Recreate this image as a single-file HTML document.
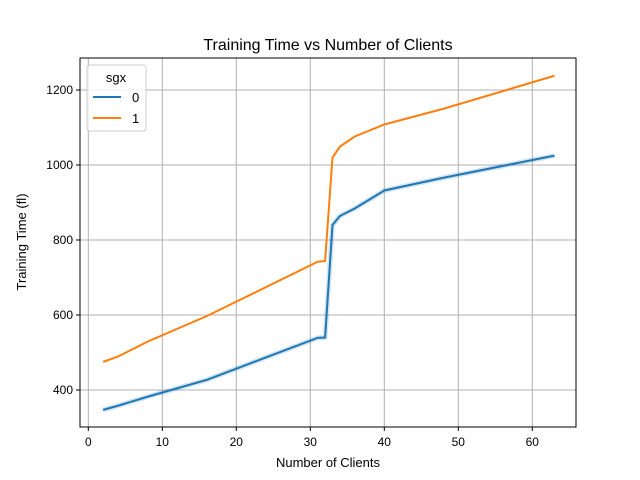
<!DOCTYPE html>
<html><head><meta charset="utf-8"><style>
body{margin:0;background:#fff;}
svg{display:block;font-family:"Liberation Sans","DejaVu Sans",sans-serif;}
</style></head><body>
<svg id="chart" width="640" height="480">
<rect width="640" height="480" fill="#fff"/>
<text x="328" y="50" text-anchor="middle" font-size="16">Training Time vs Number of Clients</text>
<text x="328" y="467" text-anchor="middle" font-size="13">Number of Clients</text>
<text transform="translate(26,242) rotate(-90)" text-anchor="middle" font-size="13">Training Time (fl)</text>
<g id="grid"></g><g id="series"></g><g id="ticks"></g>
<rect x="80" y="58" width="496" height="369" fill="none" stroke="#000" stroke-width="1"/>
<g>
<rect x="87" y="65" width="59" height="66" rx="3" fill="#fff" fill-opacity="0.8" stroke="#ccc"/>
<text x="116" y="82" text-anchor="middle" font-size="13">sgx</text>
<line x1="93" y1="97" x2="121" y2="97" stroke="#1f77b4" stroke-width="2"/>
<text x="132" y="102" font-size="13">0</text>
<line x1="93" y1="118" x2="121" y2="118" stroke="#ff7f0e" stroke-width="2"/>
<text x="132" y="123" font-size="13">1</text>
</g>
</svg>
<script>
const clients = [2,4,8,16,31,32,33,34,36,40,48,63];
const sgx0 = [347,358,382,427,539,540,840,864,884,932,966,1025];
const sgx1 = [475,489,529,597,742,744,1020,1049,1076,1108,1150,1238];
const xTicks = [0,10,20,30,40,50,60];
const yTicks = [400,600,800,1000,1200];
const NS="http://www.w3.org/2000/svg";
const xs = v => 88.3 + v*7.4;
const ys = v => 390 - (v-400)*0.375;
const grid=document.getElementById('grid'), ticks=document.getElementById('ticks'), series=document.getElementById('series');
function mk(tag,attrs,parent){const e=document.createElementNS(NS,tag);for(const k in attrs)e.setAttribute(k,attrs[k]);parent.appendChild(e);return e;}
xTicks.forEach(t=>{
  const g=mk('line',{x1:xs(t),x2:xs(t),y1:58,y2:427,stroke:'#b0b0b0','stroke-width':1},grid);
  
  
  mk('line',{x1:xs(t),x2:xs(t),y1:427,y2:431,stroke:'#000'},ticks);
  const l=mk('text',{x:xs(t),y:446,'text-anchor':'middle','font-size':12},ticks);l.textContent=t;
  
  
});
yTicks.forEach(t=>{
  const g=mk('line',{x1:80,x2:576,y1:ys(t),y2:ys(t),stroke:'#b0b0b0','stroke-width':1},grid);
  
  
  mk('line',{x1:76,x2:80,y1:ys(t),y2:ys(t),stroke:'#000'},ticks);
  const l=mk('text',{x:73,y:ys(t)+4,'text-anchor':'end','font-size':12},ticks);l.textContent=t;
  
  
});
function pts(arr){return clients.map((c,i)=>xs(c)+','+ys(arr[i])).join(' ');}
mk('polyline',{points:pts(sgx0),fill:'none',stroke:'#1f77b4','stroke-opacity':0.2,'stroke-width':5},series);
const p0=mk('polyline',{points:pts(sgx0),fill:'none',stroke:'#1f77b4','stroke-width':2},series);


const p1=mk('polyline',{points:pts(sgx1),fill:'none',stroke:'#ff7f0e','stroke-width':2},series);


</script>
</body></html>
